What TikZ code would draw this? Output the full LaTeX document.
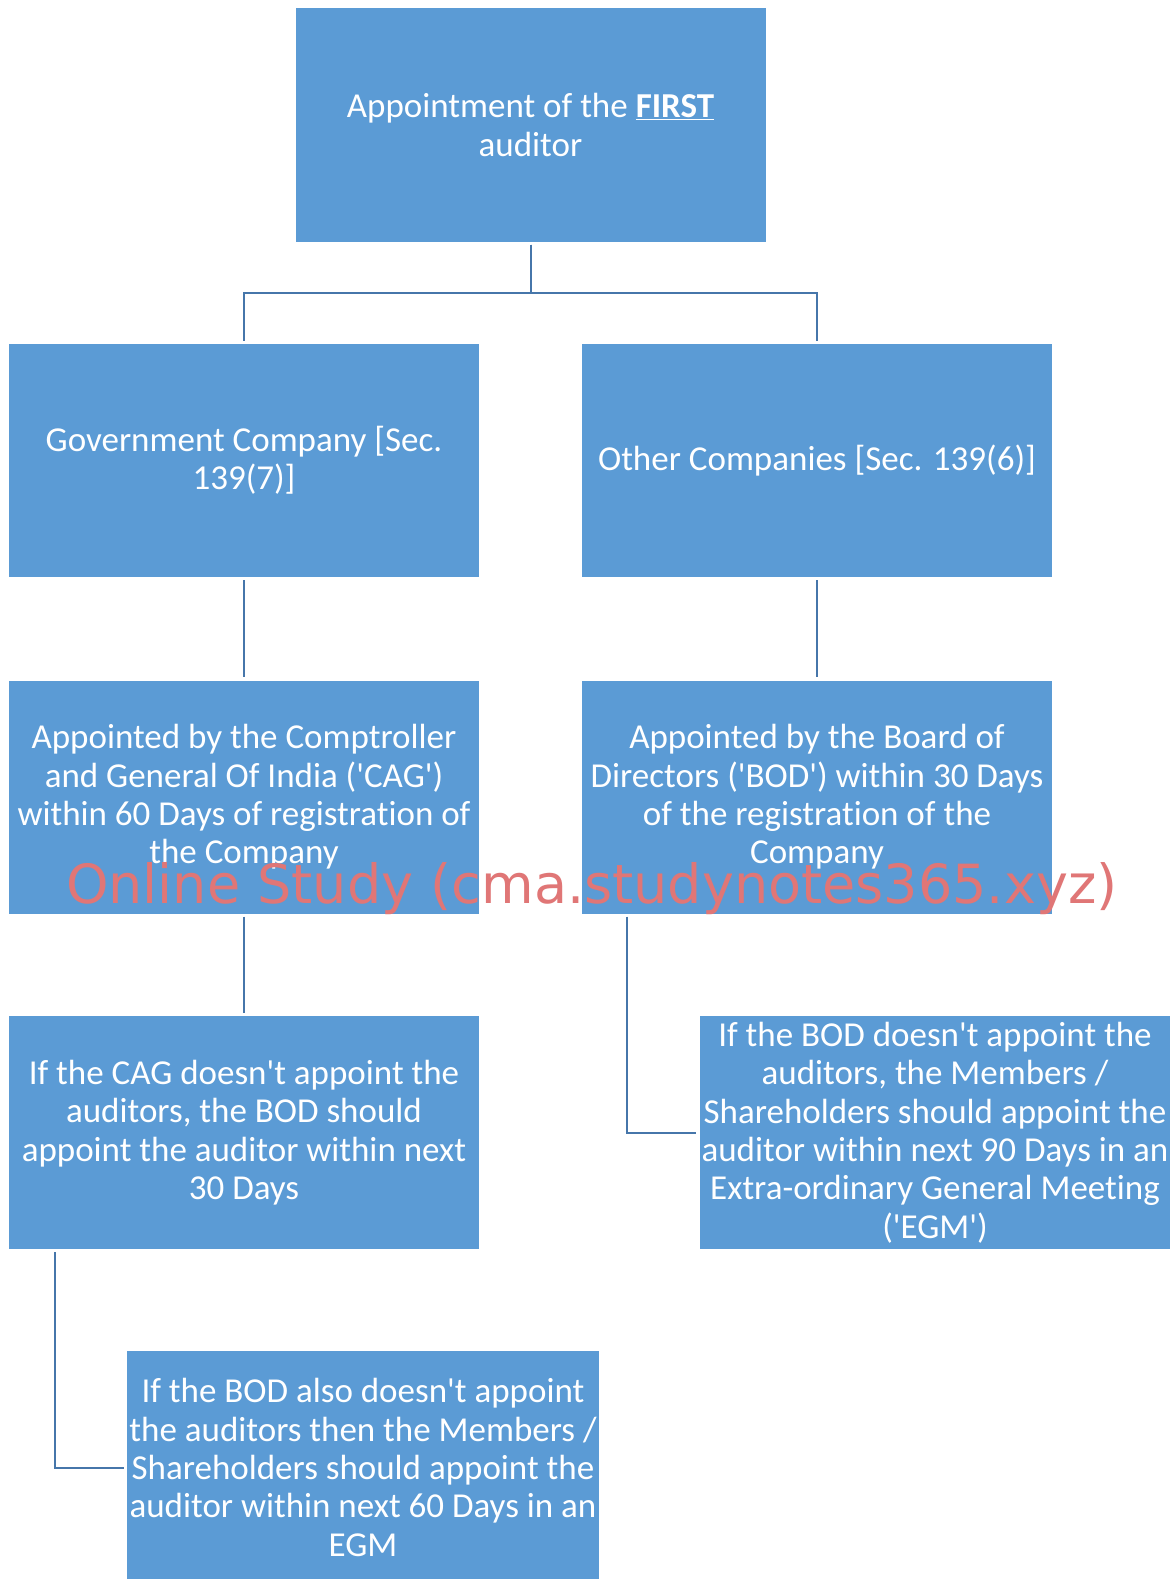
\documentclass[tikz,border=0pt]{standalone}
\usepackage{fontspec}
\setmainfont{Carlito}[Ligatures={TeXOff,NoCommon}]
\newfontfamily\wmfont{DejaVu Sans}
\definecolor{boxblue}{RGB}{91,155,213}
\definecolor{lineblue}{RGB}{70,118,170}
\definecolor{wmred}{RGB}{224,118,118}
\begin{document}
\begin{tikzpicture}[x=1pt,y=-1pt,
  box/.style={rectangle, fill=boxblue, draw=none, minimum width=470pt, minimum height=233pt,
    inner sep=2pt, text=white, align=center,
    font=\fontsize{35}{38.4}\selectfont},
  conn/.style={draw=lineblue, line width=2pt, shorten <=3pt, shorten >=3pt}]
\useasboundingbox (0,0) rectangle (1173,1579);
\fill[white] (0,0) rectangle (1173,1579);

\node[box] (top) at (530.5,125) {Appointment of the \underline{\textbf{FIRST}}\\auditor};
\node[box] (gov) at (244,460.5) {Government Company [Sec.\\139(7)]};
\node[box] (oth) at (817,460.5) {Other Companies [Sec. 139(6)]};
\node[box] (cag) at (244,797) {Appointed by the Comptroller\\and General Of India ('CAG')\\within 60 Days of registration of\\the Company};
\node[box] (bod) at (817,797) {Appointed by the Board of\\Directors ('BOD') within 30 Days\\of the registration of the\\Company};
\node[box] (cagfail) at (244,1132.5) {If the CAG doesn't appoint the\\auditors, the BOD should\\appoint the auditor within next\\30 Days};
\node[box] (egm) at (935,1132.5) {If the BOD doesn't appoint the\\auditors, the Members /\\Shareholders should appoint the\\auditor within next 90 Days in an\\Extra-ordinary General Meeting\\('EGM')};
\node[box] (bod2) at (363,1467.5) {If the BOD also doesn't appoint\\the auditors then the Members /\\Shareholders should appoint the\\auditor within next 60 Days in an\\EGM};

\draw[conn] (top.south) -- ++(0,51) -| (gov.north);
\draw[conn] (top.south) -- ++(0,51) -| (oth.north);
\draw[conn] (gov.south) -- (cag.north);
\draw[conn] (oth.south) -- (bod.north);
\draw[conn] (cag.south) -- (cagfail.north);
\draw[conn] ([xshift=45pt]bod.south west) |- (egm.west);
\draw[conn] ([xshift=46pt]cagfail.south west) |- (bod2.west);

\node[anchor=base west, inner sep=0pt, text=wmred, font=\wmfont\fontsize{54}{60}\selectfont] (wm) at (66,903) {Online Study (cma.studynotes365.xyz)};
\end{tikzpicture}
\end{document}
